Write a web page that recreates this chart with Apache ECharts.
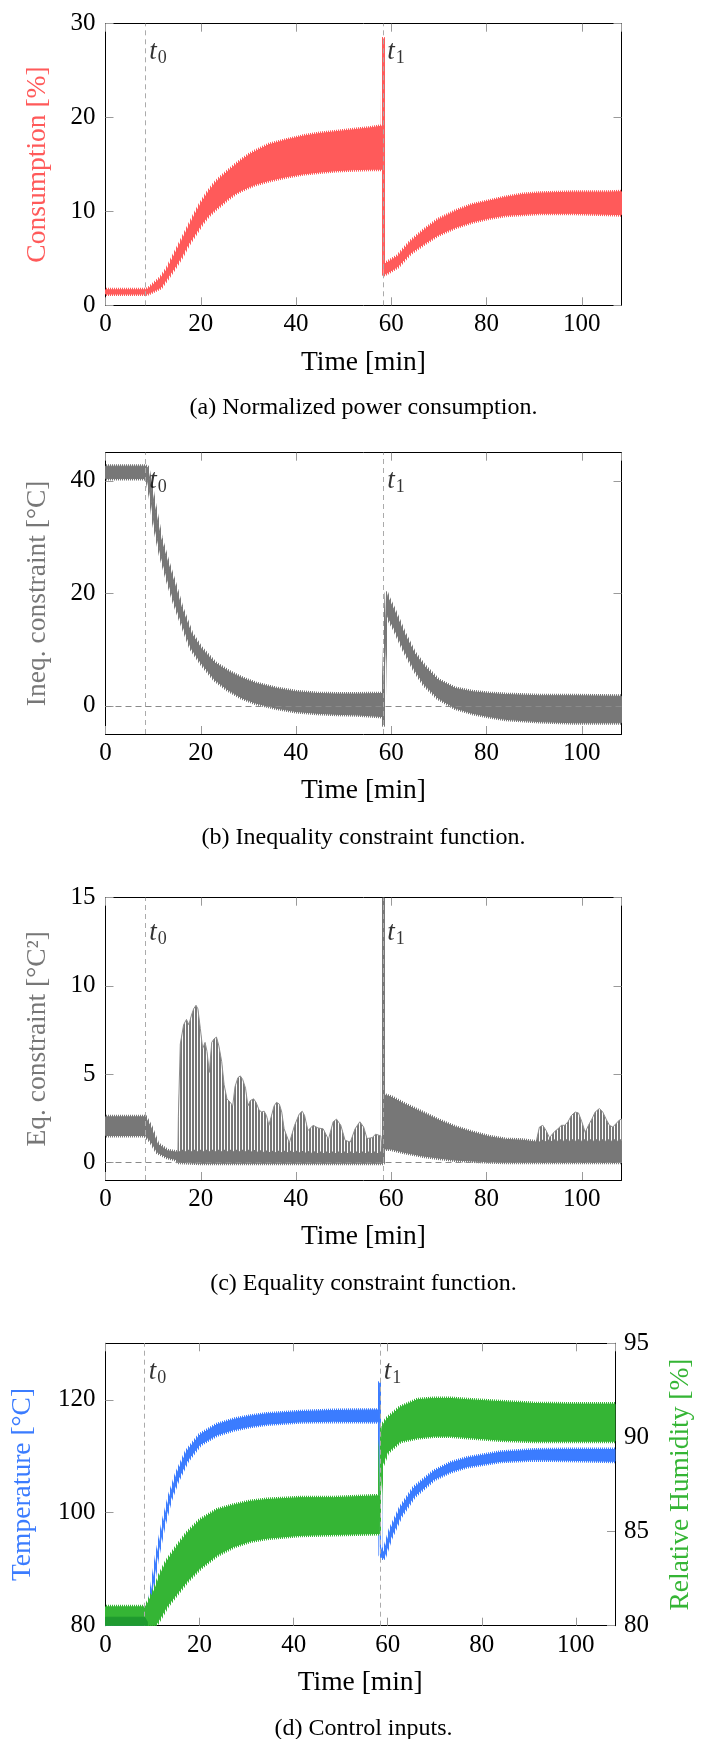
<!DOCTYPE html>
<html>
<head>
<meta charset="utf-8">
<script src="https://cdn.jsdelivr.net/npm/echarts@6/dist/echarts.min.js"></script>
<style>
  html, body { margin: 0; padding: 0; background: #fff; }
  #chart { width: 703px; height: 1739px; }
</style>
</head>
<body>
<div id="chart"></div>
<script>
// ---- data (time in minutes) ----
const tEnd = 108.33;
const markTimes = [8.333, 58.333];

// (a) normalized power consumption, band envelope [%]
const tA = [0, 8.33, 9.0, 10.0, 11.6, 13.0, 14.5, 16.0, 17.3, 18.7, 20.1, 21.5, 23.0, 24.4, 25.8, 27.2, 28.7, 30.1, 31.5, 34.3, 37.9, 41.4, 45.0, 48.5, 52.1, 55.6, 58.2, 58.33, 58.45, 59.0, 61.3, 64.1, 67.0, 69.8, 73.4, 77.0, 80.5, 84.0, 87.6, 91.1, 98.2, 105.3, 108.33];
const consHi = [1.65, 1.65, 1.75, 2.2, 2.9, 3.9, 5.4, 6.9, 8.2, 9.6, 10.9, 12.0, 13.0, 13.7, 14.3, 14.9, 15.5, 16.0, 16.4, 17.1, 17.6, 18.0, 18.3, 18.5, 18.7, 18.9, 19.1, 28.4, 4.4, 4.5, 5.2, 6.8, 8.05, 9.1, 10.0, 10.7, 11.1, 11.5, 11.8, 11.95, 12.05, 12.05, 12.1];
const consLo = [1.2, 1.2, 1.25, 1.5, 1.9, 2.9, 4.0, 5.2, 6.45, 7.5, 8.6, 9.5, 10.2, 10.8, 11.4, 11.9, 12.3, 12.6, 12.9, 13.3, 13.7, 14.0, 14.2, 14.35, 14.45, 14.5, 14.5, 14.5, 3.3, 3.4, 4.1, 5.6, 6.6, 7.5, 8.3, 8.9, 9.3, 9.6, 9.7, 9.8, 9.8, 9.7, 9.65];
const ticksA = [0, 10, 20, 30];

// (b) inequality constraint [°C]
const tB = [0, 8.33, 8.8, 9.5, 10.2, 11.6, 13.0, 14.5, 15.9, 18.0, 20.1, 23.0, 25.8, 28.7, 31.5, 35.8, 40.0, 44.3, 48.5, 52.8, 58.2, 58.36, 58.6, 59.0, 59.2, 60.6, 62.7, 64.9, 67.0, 69.8, 73.4, 77.0, 80.5, 84.0, 91.1, 98.2, 108.33];
const ineqHi = [42.6, 42.6, 42.4, 39.5, 36.0, 29.8, 25.7, 21.7, 17.6, 12.9, 10.2, 7.6, 6.1, 4.9, 4.0, 3.1, 2.5, 2.2, 2.1, 2.1, 2.2, 2.2, 8.5, 20.0, 19.4, 17.0, 12.9, 9.3, 7.0, 4.6, 3.1, 2.5, 2.2, 2.0, 1.8, 1.8, 1.7];
const ineqLo = [40.4, 40.4, 40.1, 37.0, 32.4, 26.8, 22.5, 18.3, 15.0, 10.2, 7.6, 4.6, 2.8, 1.4, 0.5, -0.4, -1.0, -1.3, -1.5, -1.6, -1.9, -3.4, 7.5, 16.5, 15.9, 13.8, 9.9, 6.4, 3.7, 1.4, -0.4, -1.3, -1.9, -2.4, -2.8, -3.0, -3.0];
const ticksB = [0, 20, 40];

// (c) equality constraint [°C²]: dense band plus spike peaks
const tC = [0, 8.33, 9.5, 10.9, 13.0, 15.0, 15.3, 20, 25, 30, 35, 40, 45, 50, 55, 58.2, 58.33, 58.4, 58.8, 59.9, 62.7, 66.3, 69.8, 73.4, 77.0, 80.5, 84.0, 87.6, 90.4, 95, 100, 105, 108.33];
const eqHi = [2.58, 2.58, 2.0, 1.04, 0.66, 0.57, 0.6, 0.6, 0.6, 0.6, 0.55, 0.55, 0.5, 0.5, 0.5, 0.5, 15, 3.8, 3.8, 3.7, 3.3, 2.85, 2.4, 2.0, 1.7, 1.45, 1.3, 1.25, 1.15, 1.2, 1.2, 1.2, 1.2];
const eqLo = [1.52, 1.52, 1.2, 0.57, 0.28, 0.15, 0.0, -0.05, -0.05, -0.05, -0.05, -0.05, -0.05, -0.05, -0.05, -0.05, 0, 0.76, 0.76, 0.76, 0.57, 0.38, 0.25, 0.13, 0.08, 0.04, 0.0, 0.0, 0.0, 0.0, 0.0, 0.0, 0.0];
const spikeT1 = [15.2, 15.3, 15.7, 16.4, 17.0, 17.5, 18.0, 18.5, 19.0, 19.4, 19.9, 20.4, 20.9, 21.3, 21.8, 22.3, 22.8, 23.3, 23.8, 24.4, 24.9, 25.5, 26.2, 26.7, 27.2, 27.8, 28.3, 28.8, 29.4, 29.9, 30.4, 31.1, 31.6, 32.2, 32.7, 33.3, 33.8, 34.3, 35.4, 35.9, 36.5, 37.0, 37.5, 38.6, 39.7, 40.7, 41.3, 41.8, 42.5, 43.6, 44.6, 45.7, 46.8, 47.8, 48.5, 49.4, 50.3, 51.4, 52.4, 53.4, 54.2, 54.9, 56.0, 56.7, 57.8, 58.2];
const spikeHi1 = [0.5, 2.6, 6.7, 7.8, 8.1, 7.8, 8.3, 8.7, 8.9, 8.7, 7.6, 6.45, 6.8, 6.3, 5.1, 6.8, 7.0, 7.1, 6.6, 5.7, 4.4, 3.6, 3.4, 3.2, 4.3, 4.8, 4.9, 4.7, 4.2, 3.2, 3.5, 3.6, 3.4, 3.0, 2.85, 2.9, 2.65, 2.1, 3.2, 3.4, 3.3, 2.85, 1.9, 1.1, 2.1, 2.75, 2.9, 2.65, 1.8, 2.1, 1.95, 1.9, 1.3, 2.3, 2.45, 2.1, 1.25, 1.15, 1.9, 2.3, 2.0, 1.35, 1.4, 1.6, 1.5, 0.5];
const spikeT2 = [90.4, 91.1, 91.8, 92.5, 93.2, 94.3, 95.0, 95.7, 96.4, 97.1, 97.8, 98.6, 99.3, 100.0, 100.7, 101.4, 102.1, 102.8, 103.7, 104.4, 105.1, 105.8, 106.5, 107.2, 107.9, 108.33];
const spikeHi2 = [1.15, 2.0, 2.1, 1.8, 1.4, 1.75, 1.9, 2.1, 2.1, 2.3, 2.65, 2.85, 2.8, 2.3, 1.7, 2.1, 2.45, 2.85, 3.05, 2.85, 2.45, 2.1, 2.0, 2.2, 2.4, 2.45];
const ticksC = [0, 5, 10, 15];

// (d) control inputs: temperature [°C] and relative humidity [%]
const tT = [0, 8.33, 8.8, 9.5, 10.9, 12.3, 13.7, 15.2, 17.3, 20.1, 23.7, 27.2, 30.8, 34.3, 41.4, 48.5, 58.2, 58.33, 58.45, 58.8, 59.2, 60.6, 62.7, 65.6, 69.8, 73.4, 77.0, 84.0, 91.1, 98.2, 108.33];
const tempHi = [80.6, 80.6, 81.0, 84.6, 92.3, 98.3, 103.1, 107.0, 110.9, 113.8, 115.6, 116.5, 117.1, 117.5, 117.9, 118.1, 118.2, 123.0, 94.0, 93.0, 93.1, 97.0, 100.8, 104.4, 107.3, 108.8, 109.7, 110.7, 111.1, 111.2, 111.2];
const tempLo = [80.0, 80.0, 80.0, 84.0, 91.7, 97.5, 102.1, 105.5, 109.1, 112.1, 113.8, 114.7, 115.3, 115.7, 116.1, 116.2, 116.1, 116.1, 92.5, 92.0, 92.0, 95.5, 99.3, 102.9, 105.9, 107.3, 108.2, 109.1, 109.4, 109.3, 109.1];
const tH = [0, 8.33, 8.8, 10.2, 10.6, 11.6, 13.0, 15.2, 17.3, 20.1, 23.7, 27.2, 30.8, 34.3, 41.4, 48.5, 58.3, 58.45, 58.8, 59.9, 62.7, 66.3, 69.8, 73.4, 77.0, 84.0, 91.1, 98.2, 108.33];
const humHi = [81.0, 81.0, 81.1, 81.8, 82.0, 82.7, 83.4, 84.2, 84.9, 85.6, 86.15, 86.4, 86.6, 86.7, 86.8, 86.8, 86.9, 89.5, 90.6, 91.0, 91.6, 92.0, 92.07, 92.07, 92.0, 91.9, 91.8, 91.77, 91.77];
const humLo = [80.05, 80.05, 80.0, 80.0, 80.0, 80.4, 81.0, 81.7, 82.35, 83.05, 83.75, 84.2, 84.5, 84.65, 84.8, 84.85, 84.9, 87.0, 88.5, 89.2, 89.8, 89.98, 90.07, 90.07, 90.0, 89.86, 89.8, 89.8, 89.8];
// darker core of the humidity trace before t0
const tHcore = [0, 8.33, 8.9];
const humCoreHi = [80.45, 80.45, 80.2];
const humCoreLo = [80.0, 80.0, 80.0];
const ticksTemp = [80, 100, 120];
const ticksHum = [80, 85, 90, 95];

// label heights of the t0 / t1 annotations in each panel
const markLabelY = [27, 40, 13, 125];
const captions = [
  '(a) Normalized power consumption.',
  '(b) Inequality constraint function.',
  '(c) Equality constraint function.',
  '(d) Control inputs.'
];

// ---- styling ----
const FONT = '"Liberation Serif", "Times New Roman", serif';
const RED = '#ff5a5a', GRAY = '#777777', BLUE = '#3b7cff', GREEN = '#35b535', DARKGREEN = '#1f9a2f';

const chart = echarts.init(document.getElementById('chart'), null, { renderer: 'canvas' });

const gridTops = [23.7, 452.7, 897.7, 1343.3];
const gridHeights = [281.6, 281.3, 282.3, 282.4];
const grid = gridTops.map((top, i) => ({ left: 105.5, top: top, width: 516, height: gridHeights[i] }));

const tickStyle = { inside: true, length: 8, lineStyle: { color: '#9a9a9a', width: 1 } };
const lineStyle = { lineStyle: { color: '#000', width: 1 } };
const labelFont = { fontFamily: FONT, fontSize: 25, color: '#000' };
const NAME_SIZE = 27.5;

function xAxisFor(g, top) {
  return {
    type: 'value', gridIndex: g, position: top ? 'top' : 'bottom',
    min: 0, max: tEnd, interval: 20,
    name: top ? '' : 'Time [min]', nameLocation: 'middle', nameGap: 43,
    nameTextStyle: { fontFamily: FONT, fontSize: NAME_SIZE, color: '#000' },
    axisLine: Object.assign({ onZero: false }, lineStyle),
    axisTick: tickStyle,
    axisLabel: Object.assign({ show: !top, margin: 7 }, labelFont),
    splitLine: { show: false }
  };
}

function yAxisFor(g, min, max, ticks, opts) {
  const o = opts || {};
  return {
    type: 'value', gridIndex: g, position: o.right ? 'right' : 'left',
    min: min, max: max,
    name: o.name || '', nameLocation: 'middle', nameGap: o.nameGap || 54, nameRotate: 90,
    nameTextStyle: { fontFamily: FONT, fontSize: NAME_SIZE, color: o.color || '#000' },
    axisLine: Object.assign({ onZero: false }, lineStyle),
    axisTick: Object.assign({ customValues: ticks }, tickStyle),
    axisLabel: Object.assign({ show: !o.hideLabel, customValues: ticks, margin: o.right ? 9 : 10 }, labelFont),
    splitLine: { show: false }
  };
}

const xAxis = [0, 1, 2, 3].map(g => xAxisFor(g, false)).concat([0, 1, 2, 3].map(g => xAxisFor(g, true)));
const yAxis = [
  yAxisFor(0, 0, 30, ticksA, { name: 'Consumption [%]', color: RED }),
  yAxisFor(1, -5, 45, ticksB, { name: 'Ineq. constraint [°C]', color: GRAY }),
  yAxisFor(2, -1, 15, ticksC, { name: 'Eq. constraint [°C²]', color: GRAY }),
  yAxisFor(3, 80, 130, ticksTemp, { name: 'Temperature [°C]', color: BLUE, nameGap: 69 }),
  yAxisFor(0, 0, 30, ticksA, { right: true, hideLabel: true }),
  yAxisFor(1, -5, 45, ticksB, { right: true, hideLabel: true }),
  yAxisFor(2, -1, 15, ticksC, { right: true, hideLabel: true }),
  yAxisFor(3, 80, 95, ticksHum, { right: true, name: 'Relative Humidity [%]', color: GREEN, nameGap: 52 })
];

// vertical hatch used to give the envelopes a hairy edge
function hatch(color, on, period) {
  const c = document.createElement('canvas');
  c.width = period; c.height = 2;
  const ctx = c.getContext('2d');
  ctx.fillStyle = color;
  ctx.fillRect(0, 0, on, 2);
  return { image: c, repeat: 'repeat' };
}

// oscillating signals are drawn as filled envelopes
function band(xi, yi, ts, hi, lo, color, opts) {
  const o = opts || {};
  const fringe = o.fringe === false ? null : hatch(color, 1, 2);
  return {
    type: 'custom', xAxisIndex: xi, yAxisIndex: yi, z: o.z || 3, clip: true, silent: true,
    data: [[ts[0], hi[0]]],
    renderItem: function (params, api) {
      const pts = [];
      for (let i = 0; i < ts.length; i++) pts.push(api.coord([ts[i], hi[i]]));
      for (let i = ts.length - 1; i >= 0; i--) pts.push(api.coord([ts[i], lo ? lo[i] : 0]));
      const children = [];
      if (fringe) {
        children.push({
          type: 'polygon', shape: { points: pts },
          style: { fill: null, stroke: fringe, lineWidth: 4, lineJoin: 'round' }
        });
      }
      children.push({
        type: 'polygon', shape: { points: pts },
        style: { fill: o.fill || color, stroke: color, lineWidth: 1, lineJoin: 'round' }
      });
      return { type: 'group', children: children };
    }
  };
}

const stripeFill = hatch(GRAY, 2, 3);

function markers(g, zeroLine) {
  const data = markTimes.map(t => ({ xAxis: t, lineStyle: { color: '#ababab', type: [5, 4], width: 1 } }));
  if (zeroLine) data.push({ yAxis: 0, lineStyle: { color: '#8a8a8a', type: [6, 4], width: 1 } });
  return {
    type: 'line', xAxisIndex: g, yAxisIndex: g, data: [], z: 1,
    markLine: { silent: true, symbol: 'none', label: { show: false }, data: data, animation: false }
  };
}

function tLabels(g) {
  return {
    type: 'scatter', xAxisIndex: g, yAxisIndex: g, z: 10, symbolSize: 0, silent: true,
    data: markTimes.map(t => [t, markLabelY[g]]),
    label: {
      show: true, position: 'right', distance: 4,
      formatter: p => '{t|t}{s|' + p.dataIndex + '}',
      rich: {
        t: { fontFamily: FONT, fontStyle: 'italic', fontSize: 27, color: '#000' },
        s: { fontFamily: FONT, fontSize: 18, color: '#000', padding: [13, 0, 0, 1] }
      }
    }
  };
}

const series = [
  markers(0, false),
  band(0, 0, tA, consHi, consLo, RED),
  tLabels(0),

  markers(1, true),
  band(1, 1, tB, ineqHi, ineqLo, GRAY),
  tLabels(1),

  markers(2, true),
  band(2, 2, spikeT1, spikeHi1, null, '#8c8c8c', { fill: stripeFill, fringe: false, z: 2 }),
  band(2, 2, spikeT2, spikeHi2, null, '#8c8c8c', { fill: stripeFill, fringe: false, z: 2 }),
  band(2, 2, tC, eqHi, eqLo, GRAY),
  tLabels(2),

  markers(3, false),
  band(3, 3, tT, tempHi, tempLo, BLUE, { z: 3 }),
  band(3, 7, tH, humHi, humLo, GREEN, { z: 4 }),
  band(3, 7, tHcore, humCoreHi, humCoreLo, DARKGREEN, { z: 5, fringe: false }),
  tLabels(3)
];

const capY = [408, 837.3, 1283.3, 1728.3];
const graphic = captions.map((c, i) => ({
  type: 'text', x: 363.5, y: capY[i],
  style: { text: c, font: '24px ' + FONT, fill: '#000', textAlign: 'center', textVerticalAlign: 'middle' }
}));

chart.setOption({
  animation: false,
  backgroundColor: '#fff',
  grid: grid,
  xAxis: xAxis,
  yAxis: yAxis,
  series: series,
  graphic: graphic
});
</script>
</body>
</html>
